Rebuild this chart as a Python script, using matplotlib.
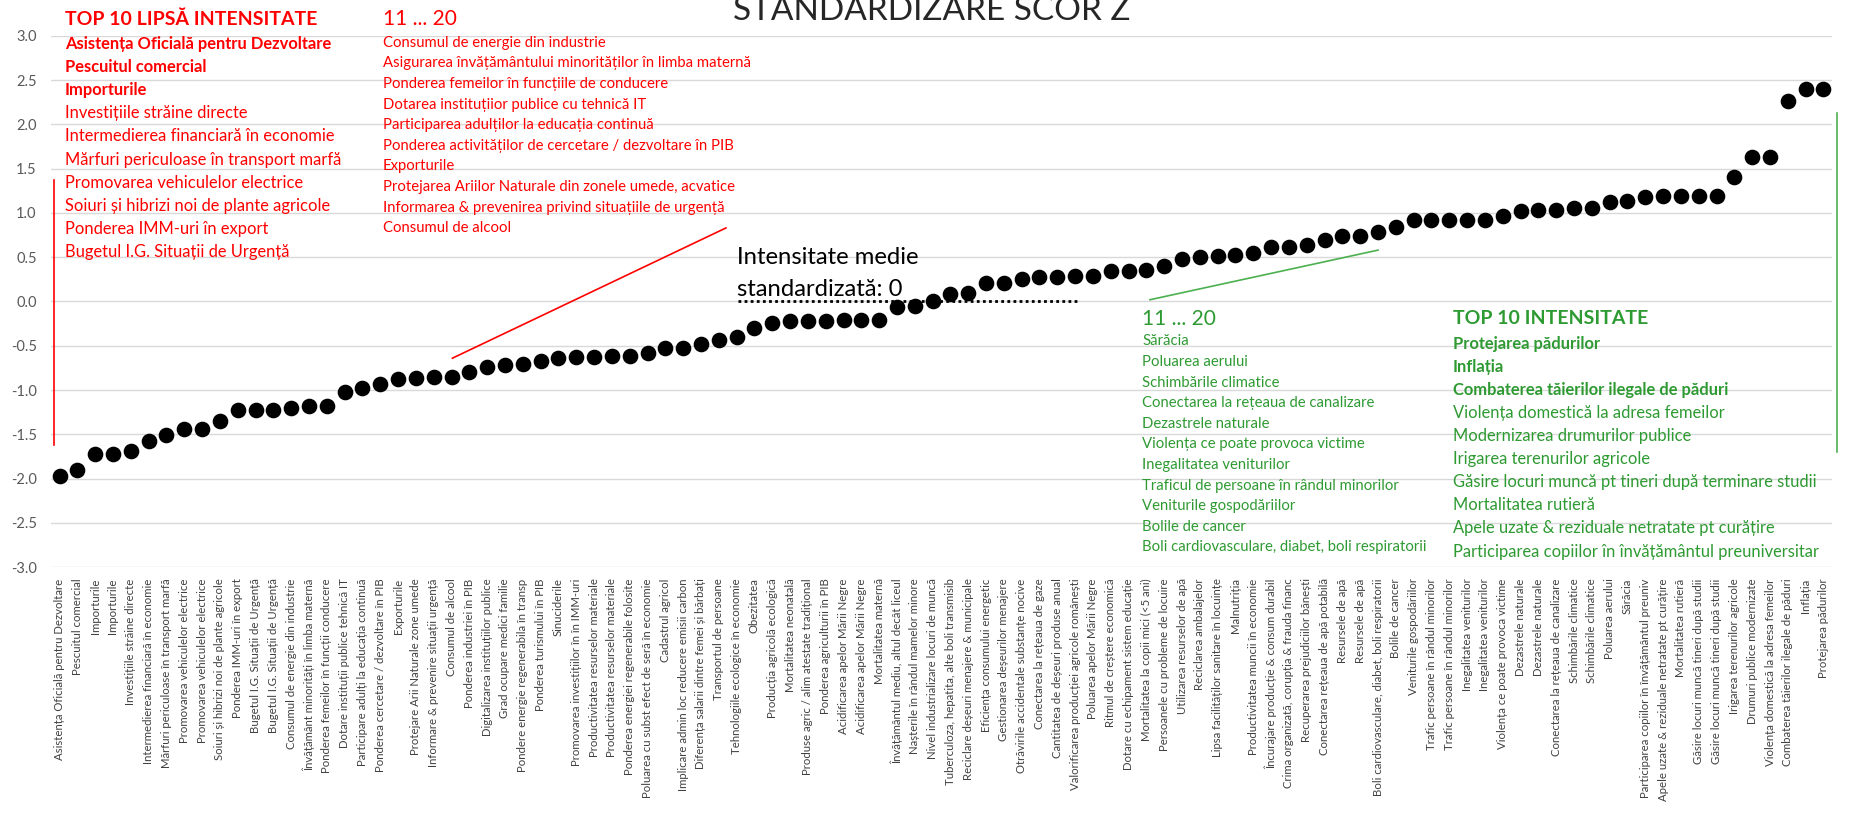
import numpy as np
import matplotlib
matplotlib.use('Agg')
import matplotlib.pyplot as plt

plt.rcParams['font.family'] = ['Lato', 'DejaVu Sans']

W, H = 1865, 813

labels = [
    'Asistența Oficială pentru Dezvoltare', 'Pescuitul comercial', 'Importurile', 'Importurile',
    'Investițiile străine directe', 'Intermedierea financiară în economie',
    'Mărfuri periculoase în transport marfă', 'Promovarea vehiculelor electrice',
    'Promovarea vehiculelor electrice', 'Soiuri și hibrizi noi de plante agricole',
    'Ponderea IMM-uri în export', 'Bugetul I.G. Situații de Urgență', 'Bugetul I.G. Situații de Urgență',
    'Consumul de energie din industrie', 'Învățământ minorități în limba maternă',
    'Ponderea femeilor în funcții conducere', 'Dotare instituții publice tehnică IT',
    'Participare adulți la educația continuă', 'Ponderea cercetare / dezvoltare în PIB', 'Exporturile',
    'Protejare Arii Naturale zone umede', 'Informare & prevenire situații urgență', 'Consumul de alcool',
    'Ponderea industriei în PIB', 'Digitalizarea instituțiilor publice', 'Grad ocupare medici familie',
    'Pondere energie regenerabila în transp', 'Ponderea turismului în PIB', 'Sinuciderile',
    'Promovarea investițiilor în în IMM-uri', 'Productivitatea resurselor materiale',
    'Productivitatea resurselor materiale', 'Ponderea energiei regenerabile folosite',
    'Poluarea cu subst efect de seră în economie', 'Cadastrul agricol',
    'Implicare admin loc reducere emisii carbon', 'Diferența salarii dintre femei și bărbați',
    'Transportul de persoane', 'Tehnologiile ecologice în economie', 'Obezitatea',
    'Producția agricolă ecologică', 'Mortalitatea neonatală', 'Produse agric / alim atestate tradițional',
    'Ponderea agriculturii în PIB', 'Acidificarea apelor Mării Negre', 'Acidificarea apelor Mării Negre',
    'Mortalitatea maternă', 'Învățământul mediu, altul decât liceul', 'Nașterile în rândul mamelor minore',
    'Nivel industrializare locuri de muncă', 'Tuberculoza, hepatita, alte boli transmisib',
    'Reciclare deșeuri menajere & municipale', 'Eficiența consumului energetic',
    'Gestionarea deșeurilor menajere', 'Otrăvirile accidentale substanțe nocive',
    'Conectarea la rețeaua de gaze', 'Cantitatea de deșeuri produse anual',
    'Valorificarea producției agricole românești', 'Poluarea apelor Mării Negre',
    'Ritmul de creștere economică', 'Dotare cu echipament sistem educație',
    'Mortalitatea la copii mici (<5 ani)', 'Persoanele cu probleme de locuire',
    'Utilizarea resurselor de apă', 'Reciclarea ambalajelor', 'Lipsa facilităților sanitare în locuințe',
    'Malnutriția', 'Productivitatea muncii în economie', 'Încurajare producție & consum durabil',
    'Crima organizată, corupția & frauda financ', 'Recuperarea prejudiciilor bănești',
    'Conectarea rețeaua de apă potabilă', 'Resursele de apă', 'Resursele de apă',
    'Boli cardiovasculare, diabet, boli respiratorii', 'Bolile de cancer', 'Veniturile gospodăriilor',
    'Trafic persoane în rândul minorilor', 'Trafic persoane în rândul minorilor',
    'Inegalitatea veniturilor', 'Inegalitatea veniturilor', 'Violența ce poate provoca victime',
    'Dezastrele naturale', 'Dezastrele naturale', 'Conectarea la rețeaua de canalizare',
    'Schimbările climatice', 'Schimbările climatice', 'Poluarea aerului', 'Sărăcia',
    'Participarea copiilor în învățământul preuniv', 'Apele uzate & reziduale netratate pt curățire',
    'Mortalitatea rutieră', 'Găsire locuri muncă tineri după studii',
    'Găsire locuri muncă tineri după studii', 'Irigarea terenurilor agricole',
    'Drumuri publice modernizate', 'Violența domestică la adresa femeilor',
    'Combaterea tăierilor ilegale de păduri', 'Inflația', 'Protejarea pădurilor',
]

scores = [
    -1.97, -1.90, -1.72, -1.72, -1.69, -1.57, -1.51, -1.44, -1.44, -1.35,
    -1.23, -1.23, -1.23, -1.20, -1.18, -1.18, -1.02, -0.98, -0.93, -0.88,
    -0.86, -0.85, -0.85, -0.80, -0.74, -0.72, -0.70, -0.67, -0.64, -0.63,
    -0.63, -0.62, -0.61, -0.58, -0.53, -0.53, -0.48, -0.43, -0.40, -0.30,
    -0.24, -0.22, -0.22, -0.22, -0.21, -0.21, -0.21, -0.06, -0.05, 0.01,
    0.09, 0.10, 0.21, 0.21, 0.25, 0.28, 0.28, 0.29, 0.29, 0.34,
    0.34, 0.35, 0.40, 0.48, 0.50, 0.51, 0.52, 0.55, 0.62, 0.62,
    0.64, 0.69, 0.74, 0.74, 0.79, 0.84, 0.92, 0.92, 0.92, 0.92,
    0.92, 0.97, 1.02, 1.03, 1.03, 1.05, 1.05, 1.12, 1.13, 1.18,
    1.19, 1.19, 1.19, 1.19, 1.41, 1.63, 1.63, 2.26, 2.40, 2.40,
]

top10_low = [
    ('Asistența Oficială pentru Dezvoltare', True), ('Pescuitul comercial', True), ('Importurile', True),
    ('Investițiile străine directe', False), ('Intermedierea financiară în economie', False),
    ('Mărfuri periculoase în transport marfă', False), ('Promovarea vehiculelor electrice', False),
    ('Soiuri și hibrizi noi de plante agricole', False), ('Ponderea IMM-uri în export', False),
    ('Bugetul I.G. Situații de Urgență', False),
]
next10_low = [
    'Consumul de energie din industrie', 'Asigurarea învățământului minorităților în limba maternă',
    'Ponderea femeilor în funcțiile de conducere', 'Dotarea instituțiior publice cu tehnică IT',
    'Participarea adulților la educația continuă', 'Ponderea activităților de cercetare / dezvoltare în PIB',
    'Exporturile', 'Protejarea Ariilor Naturale din zonele umede, acvatice',
    'Informarea & prevenirea privind situațiile de urgență', 'Consumul de alcool',
]
next10_high = [
    'Sărăcia', 'Poluarea aerului', 'Schimbările climatice', 'Conectarea la rețeaua de canalizare',
    'Dezastrele naturale', 'Violența ce poate provoca victime', 'Inegalitatea veniturilor',
    'Traficul de persoane în rândul minorilor', 'Veniturile gospodăriilor', 'Bolile de cancer',
    'Boli cardiovasculare, diabet, boli respiratorii',
]
top10_high = [
    ('Protejarea pădurilor', True), ('Inflația', True), ('Combaterea tăierilor ilegale de păduri', True),
    ('Violența domestică la adresa femeilor', False), ('Modernizarea drumurilor publice', False),
    ('Irigarea terenurilor agricole', False), ('Găsire locuri muncă pt tineri după terminare studii', False),
    ('Mortalitatea rutieră', False), ('Apele uzate & reziduale netratate pt curățire', False),
    ('Participarea copiilor în învățământul preuniversitar', False),
]

RED = '#ff0000'
GREEN = '#2e9a32'
GREEN_LINE = '#4cb050'


def px(x, y):
    # pixel position (from top-left) -> figure fraction
    return x / W, 1 - y / H


fig = plt.figure(figsize=(W / 100, H / 100), dpi=100)
ax_l, ax_r, ax_t, ax_b = 50.6, 1832.4, 35.7, 567.3
ax = fig.add_axes([ax_l / W, 1 - ax_b / H, (ax_r - ax_l) / W, (ax_b - ax_t) / H])

x = np.arange(len(scores))
ax.scatter(x, scores, s=105, color='black', zorder=3)

ax.set_xlim(-0.5, len(scores) - 0.5)
ax.set_ylim(-3, 3)
ax.set_yticks(np.arange(-3, 3.01, 0.5))
ax.set_yticklabels(['%.1f' % v for v in np.arange(-3, 3.01, 0.5)])
ax.set_xticks(x)
ax.set_xticklabels(labels, rotation=90, fontsize=8.2, color='#404040')
ax.tick_params(axis='y', length=0, labelsize=10.5, labelcolor='#595959', pad=10)
ax.tick_params(axis='x', length=0, pad=8)
ax.grid(axis='y', color='#d9d9d9', linewidth=1)
ax.set_axisbelow(True)
for s in ax.spines.values():
    s.set_visible(False)

# annotation lines
ax.plot([-0.3, -0.3], [1.37, -1.62], color=RED, lw=1.2, clip_on=False)
ax.plot([22.05, 37.4], [-0.64, 0.83], color=RED, lw=1.2)
ax.plot([38.06, 57.3], [0, 0], color='black', lw=2, ls=(0, (1, 1.2)))
ax.plot([61.2, 74.0], [0.02, 0.58], color=GREEN_LINE, lw=1.2)
ax.plot([99.75, 99.75], [2.13, -1.70], color=GREEN_LINE, lw=1.2, clip_on=False)

fig.text(*px(932, 19.5), 'STANDARDIZARE SCOR Z', fontsize=24, ha='center', va='baseline', color='#262626')

# text blocks
fig.text(*px(65, 19), 'TOP 10 LIPSĂ INTENSITATE', fontsize=14, fontweight='bold', color=RED, va='center')
for i, (t, b) in enumerate(top10_low):
    fig.text(*px(65, 44 + 23.1 * i), t, fontsize=11.9, color=RED, va='center',
             fontweight='bold' if b else 'normal')

fig.text(*px(383, 19), '11 ... 20', fontsize=15, color=RED, va='center')
for i, t in enumerate(next10_low):
    fig.text(*px(383, 42.8 + 20.6 * i), t, fontsize=10.7, color=RED, va='center')

fig.text(*px(1142, 318.8), '11 ... 20', fontsize=15, color=GREEN, va='center')
for i, t in enumerate(next10_high):
    fig.text(*px(1142, 341.4 + 20.6 * i), t, fontsize=10.7, color=GREEN, va='center')

fig.text(*px(1453, 318.8), 'TOP 10 INTENSITATE', fontsize=14, fontweight='bold', color=GREEN, va='center')
for i, (t, b) in enumerate(top10_high):
    fig.text(*px(1453, 343.7 + 23.1 * i), t, fontsize=11.9, color=GREEN, va='center',
             fontweight='bold' if b else 'normal')

fig.text(*px(737, 257), 'Intensitate medie', fontsize=17.2, color='black', va='center')
fig.text(*px(737, 289), 'standardizată: 0', fontsize=17.2, color='black', va='center')

fig.savefig('out.png', dpi=100)
